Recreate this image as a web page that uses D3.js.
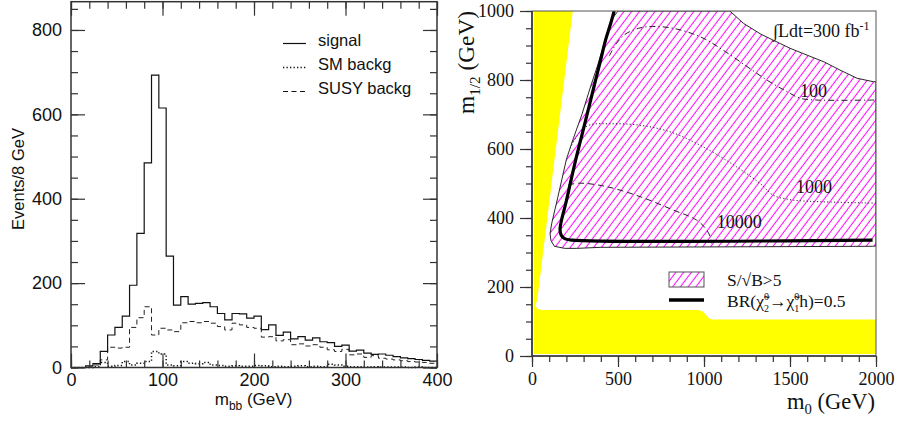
<!DOCTYPE html>
<html><head><meta charset="utf-8">
<script src="https://cdn.jsdelivr.net/npm/d3@7"></script>
<style>body{margin:0;background:#fff}svg{display:block}</style>
</head><body>
<svg id="c" width="899" height="422"></svg>
<script>
// ---------------- DATA ----------------
// Left panel: m_bb histograms, 8 GeV bins from 0 to 400 GeV
const binWidth = 8;
const signal    = [0,0,4,9,38,77,95,122,195,318,485,693,615,264,148,168,150,152,154,144,128,113,128,127,117,122,90,101,76,84,68,73,65,70,61,59,50,53,39,41,34,31,32,29,26,23,21,19,17,15];
const susyBackg = [0,0,1,6,18,48,46,48,95,118,144,77,93,89,85,106,109,106,109,105,97,89,105,101,95,93,72,73,63,66,54,56,51,54,48,42,38,43,30,32,24,28,22,20,18,16,14,13,12,10];
const smBackg   = [0,0,0,2,12,3,5,14,6,10,14,38,32,6,4,14,10,9,12,6,5,3,4,3,3,5,4,2,3,2,3,4,2,3,2,8,6,3,2,2,1,2,1,1,1,1,0,1,0,0];
const leftXTicks = [0,100,200,300,400];
const leftYTicks = [0,200,400,600,800];
const legendLeft = ["signal","SM backg","SUSY backg"];

// Right panel: (m0, m1/2) plane
const rightXTicks = [0,500,1000,1500,2000];
const rightYTicks = [0,200,400,600,800,1000];
const excludedRegion = [[10,1000],[237,1000],[30,160],[20,147],[30,137],[60,133],[970,133],[990,130],[1010,120],[1030,109],[1050,106],[2000,106],[2000,6],[10,6]];
const sigRegion = [[500,1000],[1150,1000],[1230,964],[1330,933],[1400,916],[1500,892],[1600,872],[1700,852],[1790,829],[1890,805],[1985,795],[2000,795],[2000,319],[1980,318],[400,315],[260,312],[190,312],[130,318],[110,335],[105,355],[115,385],[150,460],[200,570],[240,630],[290,700],[340,780],[380,840],[410,890],[440,940],[470,980],[500,1000]];
const brLine = [[1980,336],[230,336],[190,340],[170,350],[163,368],[200,450],[250,560],[300,660],[350,760],[400,860],[430,920],[455,960],[478,1000]];
const contour100 = [[450,870],[490,905],[540,932],[620,950],[700,955],[820,950],[980,925],[1110,887],[1250,839],[1365,800],[1480,767],[1560,747],[1650,742],[2000,742]];
const contour1000 = [[221,602],[280,650],[337,670],[453,673],[610,670],[802,650],[996,606],[1190,548],[1326,500],[1403,466],[1480,455],[1558,450],[2000,443]];
const contour10000 = [[211,496],[278,501],[433,491],[628,462],[822,423],[957,394],[1016,365],[1040,340],[1045,326]];
const contourLabels = [{text:"100", m0:1558, m12:752},{text:"1000", m0:1535, m12:472},{text:"10000", m0:1074, m12:371}];

// ---------------- DRAW ----------------
const svg = d3.select("#c");
const sans = "'Liberation Sans', Arial, sans-serif";
const serif = "'Liberation Serif', 'Times New Roman', serif";

const defs = svg.append("defs");
const pat = defs.append("pattern").attr("id","hatch").attr("patternUnits","userSpaceOnUse")
  .attr("width",6.2).attr("height",6.2).attr("patternTransform","rotate(37)");
pat.append("line").attr("x1",3).attr("x2",3).attr("y1",-1).attr("y2",7.2)
  .attr("stroke","#ff00ff").attr("stroke-width",1);

// ===== LEFT PANEL =====
const L = {x0:71, x1:437, y0:367.5, y1:1.7};
const xL = d3.scaleLinear().domain([0,400]).range([L.x0,L.x1]);
const yL = d3.scaleLinear().domain([0,867]).range([L.y0,L.y1]);
const gL = svg.append("g");

function stepData(vals){
  const pts = vals.map((v,i)=>({x:i*binWidth, y:v}));
  pts.push({x:vals.length*binWidth, y:vals[vals.length-1]});
  return pts;
}
const stepLine = d3.line().x(d=>xL(d.x)).y(d=>yL(d.y)).curve(d3.curveStepAfter);

gL.append("path").datum(stepData(susyBackg)).attr("d",stepLine)
  .attr("fill","none").attr("stroke","#222").attr("stroke-width",1).attr("stroke-dasharray","5,3.5");
gL.append("path").datum(stepData(smBackg)).attr("d",stepLine)
  .attr("fill","none").attr("stroke","#111").attr("stroke-width",1.5).attr("stroke-dasharray","1.3,2.2");
gL.append("path").datum(stepData(signal)).attr("d",stepLine)
  .attr("fill","none").attr("stroke","#111").attr("stroke-width",1.2);

function styleAxis(g, font, size){
  g.select(".domain").remove();
  g.selectAll("line").attr("stroke","#333").attr("stroke-width",1.2);
  g.selectAll("text").attr("font-family",font).attr("font-size",size).attr("fill","#111");
}
// left axis
gL.append("g").attr("transform",`translate(${L.x0},0)`)
  .call(d3.axisLeft(yL).tickValues(d3.range(0,867,50)).tickSize(-7).tickFormat(""))
  .call(g=>styleAxis(g,sans,18));
gL.append("g").attr("transform",`translate(${L.x0},0)`)
  .call(d3.axisLeft(yL).tickValues(leftYTicks).tickSize(-14).tickPadding(9).tickFormat(d3.format("d")))
  .call(g=>styleAxis(g,sans,18));
// right axis
gL.append("g").attr("transform",`translate(${L.x1},0)`)
  .call(d3.axisRight(yL).tickValues(d3.range(0,867,50)).tickSize(-7).tickFormat(""))
  .call(g=>styleAxis(g,sans,18));
gL.append("g").attr("transform",`translate(${L.x1},0)`)
  .call(d3.axisRight(yL).tickValues(leftYTicks).tickSize(-14).tickFormat(""))
  .call(g=>styleAxis(g,sans,18));
// bottom axis
gL.append("g").attr("transform",`translate(0,${L.y0})`)
  .call(d3.axisBottom(xL).tickValues(d3.range(0,401,20)).tickSize(-7).tickFormat(""))
  .call(g=>styleAxis(g,sans,18));
gL.append("g").attr("transform",`translate(0,${L.y0})`)
  .call(d3.axisBottom(xL).tickValues(leftXTicks).tickSize(-14).tickPadding(6).tickFormat(d3.format("d")))
  .call(g=>styleAxis(g,sans,18));
// top axis
gL.append("g").attr("transform",`translate(0,${L.y1})`)
  .call(d3.axisTop(xL).tickValues(d3.range(0,401,20)).tickSize(-7).tickFormat(""))
  .call(g=>styleAxis(g,sans,18));
gL.append("g").attr("transform",`translate(0,${L.y1})`)
  .call(d3.axisTop(xL).tickValues(leftXTicks).tickSize(-14).tickFormat(""))
  .call(g=>styleAxis(g,sans,18));
// frame
gL.append("rect").attr("x",L.x0).attr("y",L.y1).attr("width",L.x1-L.x0).attr("height",L.y0-L.y1)
  .attr("fill","none").attr("stroke","#333").attr("stroke-width",1.5);

// labels
gL.append("text").attr("transform","translate(24,179) rotate(-90)").attr("text-anchor","middle")
  .attr("font-family",sans).attr("font-size",16.5).attr("fill","#111").text("Events/8 GeV");
const xlab = gL.append("text").attr("x",253.5).attr("y",405).attr("text-anchor","middle")
  .attr("font-family",sans).attr("font-size",17).attr("fill","#111");
xlab.append("tspan").text("m");
xlab.append("tspan").attr("font-size",12).attr("dy",5).text("bb");
xlab.append("tspan").attr("dy",-5).text(" (GeV)");

// legend
const legStyles = [{dash:null,w:1.2},{dash:"1.3,2.2",w:1.5},{dash:"5,3.5",w:1}];
legendLeft.forEach((t,i)=>{
  const yy = 43.5 + i*24;
  gL.append("line").attr("x1",283).attr("x2",306).attr("y1",yy).attr("y2",yy)
    .attr("stroke","#111").attr("stroke-width",legStyles[i].w)
    .attr("stroke-dasharray",legStyles[i].dash);
  gL.append("text").attr("x",318).attr("y",yy+2.5).attr("font-family",sans).attr("font-size",16.5)
    .attr("fill","#111").text(t);
});

// ===== RIGHT PANEL =====
const R = {x0:532, x1:876, y0:356, y1:11};
const xR = d3.scaleLinear().domain([0,2000]).range([R.x0,R.x1]);
const yR = d3.scaleLinear().domain([0,1000]).range([R.y0,R.y1]);
defs.append("clipPath").attr("id","clipR").append("rect")
  .attr("x",R.x0).attr("y",R.y1).attr("width",R.x1-R.x0).attr("height",R.y0-R.y1);
const gR = svg.append("g");
const plotR = gR.append("g").attr("clip-path","url(#clipR)");
const lineR = d3.line().x(d=>xR(d[0])).y(d=>yR(d[1]));
const smoothR = d3.line().x(d=>xR(d[0])).y(d=>yR(d[1])).curve(d3.curveCatmullRom.alpha(0.5));

plotR.append("path").attr("d",lineR(excludedRegion)+"Z").attr("fill","#ffff00").attr("stroke","none");
plotR.append("path").attr("d",lineR(sigRegion)+"Z").attr("fill","url(#hatch)")
  .attr("stroke","#111").attr("stroke-width",0.9);

plotR.append("path").attr("d",smoothR(contour100)).attr("fill","none").attr("stroke","#222")
  .attr("stroke-width",1).attr("stroke-dasharray","6,3,1.2,3");
plotR.append("path").attr("d",smoothR(contour1000)).attr("fill","none").attr("stroke","#222")
  .attr("stroke-width",1).attr("stroke-dasharray","1.2,2.2");
plotR.append("path").attr("d",smoothR(contour10000)).attr("fill","none").attr("stroke","#222")
  .attr("stroke-width",1).attr("stroke-dasharray","6,4");
plotR.append("path").attr("d",smoothR(brLine)).attr("fill","none").attr("stroke","#000")
  .attr("stroke-width",3.2).attr("stroke-linejoin","round");

contourLabels.forEach(c=>{
  gR.append("text").attr("x",xR(c.m0)).attr("y",yR(c.m12)).attr("font-family",serif)
    .attr("font-size",18).attr("fill","#111").text(c.text);
});
const lum = gR.append("text").attr("x",773).attr("y",37).attr("font-family",serif)
  .attr("font-size",18).attr("fill","#111");
lum.append("tspan").text("∫Ldt=300 fb");
lum.append("tspan").attr("font-size",12).attr("dy",-7).text("-1");

// axes
gR.append("g").attr("transform",`translate(${R.x0},0)`)
  .call(d3.axisLeft(yR).tickValues(d3.range(0,1001,50)).tickSize(6).tickFormat(""))
  .call(g=>styleAxis(g,serif,18));
gR.append("g").attr("transform",`translate(${R.x0},0)`)
  .call(d3.axisLeft(yR).tickValues(rightYTicks).tickSize(12).tickPadding(6).tickFormat(d3.format("d")))
  .call(g=>styleAxis(g,serif,18));
gR.append("g").attr("transform",`translate(0,${R.y0})`)
  .call(d3.axisBottom(xR).tickValues(d3.range(0,2001,100)).tickSize(6).tickFormat(""))
  .call(g=>styleAxis(g,serif,18));
gR.append("g").attr("transform",`translate(0,${R.y0})`)
  .call(d3.axisBottom(xR).tickValues(rightXTicks).tickSize(11).tickPadding(5).tickFormat(d3.format("d")))
  .call(g=>styleAxis(g,serif,18));
gR.append("rect").attr("x",R.x0).attr("y",R.y1).attr("width",R.x1-R.x0).attr("height",R.y0-R.y1)
  .attr("fill","none").attr("stroke","#555").attr("stroke-width",1);
gR.append("line").attr("x1",R.x0).attr("x2",R.x0).attr("y1",R.y1).attr("y2",R.y0)
  .attr("stroke","#333").attr("stroke-width",1.6);
gR.append("line").attr("x1",R.x0).attr("x2",R.x1).attr("y1",R.y0).attr("y2",R.y0)
  .attr("stroke","#333").attr("stroke-width",1.6);

// axis titles
function fitText(sel, target){
  const len = sel.node().getComputedTextLength();
  if (len > 0) {
    const k = target / len;
    sel.attr("font-size", +sel.attr("font-size") * k);
    sel.selectAll("tspan").each(function(){
      const t = d3.select(this);
      if (t.attr("font-size")) t.attr("font-size", +t.attr("font-size") * k);
    });
  }
}
const xt = gR.append("text").attr("x",875).attr("y",409).attr("text-anchor","end")
  .attr("font-family",serif).attr("font-size",23).attr("fill","#111");
xt.append("tspan").text("m");
xt.append("tspan").attr("font-size",15).attr("dy",5).text("0");
xt.append("tspan").attr("dy",-5).text(" (GeV)");
fitText(xt, 88);
const yt = gR.append("text").attr("transform","translate(474,11) rotate(-90)").attr("text-anchor","end")
  .attr("font-family",serif).attr("font-size",23).attr("fill","#111");
yt.append("tspan").text("m");
yt.append("tspan").attr("font-size",15).attr("dy",6).text("1/2");
yt.append("tspan").attr("dy",-6).text(" (GeV)");
fitText(yt, 103);

// legend
gR.append("rect").attr("x",669).attr("y",272).attr("width",35).attr("height",15)
  .attr("fill","url(#hatch)").attr("stroke","#555").attr("stroke-width",1);
gR.append("text").attr("x",727).attr("y",286).attr("font-family",serif).attr("font-size",17.5)
  .attr("fill","#111").text("S/√B>5");
gR.append("line").attr("x1",669).attr("x2",704).attr("y1",300).attr("y2",300)
  .attr("stroke","#000").attr("stroke-width",3.5);
const br = gR.append("text").attr("x",727).attr("y",307).attr("font-family",serif).attr("font-size",17.5).attr("fill","#111");
br.append("tspan").text("BR(χ\u0303");
br.append("tspan").attr("font-size",10).attr("dy",-7).text("0");
br.append("tspan").attr("font-size",10).attr("dx",-5).attr("dy",12).text("2");
br.append("tspan").attr("dy",-5).text("→χ\u0303");
br.append("tspan").attr("font-size",10).attr("dy",-7).text("0");
br.append("tspan").attr("font-size",10).attr("dx",-5).attr("dy",12).text("1");
br.append("tspan").attr("dy",-5).text("h)=0.5");
</script>
</body></html>
